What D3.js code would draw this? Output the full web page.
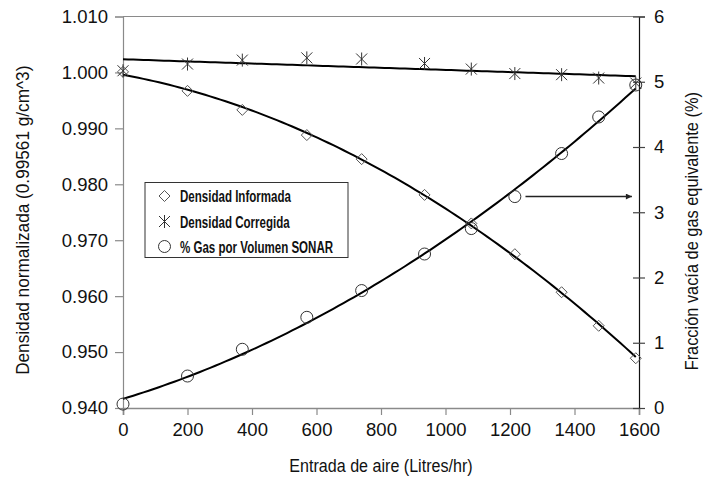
<!DOCTYPE html>
<html><head><meta charset="utf-8">
<script src="https://cdn.jsdelivr.net/npm/d3@7/dist/d3.min.js"></script>
<style>body{margin:0;background:#fff}svg{display:block}</style>
</head><body><svg id="c" width="720" height="481"></svg>
<script>
// ---- data ----
const airFlow = [0, 200, 370, 570, 740, 935, 1080, 1215, 1360, 1475, 1590];
const densInformada = [1.0001, 0.9967, 0.9933, 0.9888, 0.9845, 0.9781, 0.9730, 0.9675, 0.9607, 0.9547, 0.9489];
const densCorregida = [1.0003, 1.0015, 1.0022, 1.0026, 1.0024, 1.0016, 1.0006, 0.9998, 0.9996, 0.9990, 0.9981];
const gasSonar = [0.06, 0.49, 0.90, 1.39, 1.80, 2.36, 2.75, 3.24, 3.90, 4.46, 4.95];
const xTicks = [0, 200, 400, 600, 800, 1000, 1200, 1400, 1600];
const leftTicks = [0.940, 0.950, 0.960, 0.970, 0.980, 0.990, 1.000, 1.010];
const rightTicks = [0, 1, 2, 3, 4, 5, 6];
const legendLabels = ["Densidad Informada", "Densidad Corregida", "% Gas por Volumen SONAR"];
const xTitle = "Entrada de aire (Litres/hr)";
const yLeftTitle = "Densidad normalizada (0.99561 g/cm^3)";
const yRightTitle = "Fracción vacía de gas equivalente (%)";
const arrowFrom = [1248, 3.24], arrowTo = [1578, 3.24];

// ---- layout ----
const W = 720, H = 481;
const m = {left: 123, right: 81, top: 16.5, bottom: 73};
const iw = W - m.left - m.right, ih = H - m.top - m.bottom;
const svg = d3.select("#c");
const g = svg.append("g").attr("transform", `translate(${m.left},${m.top})`);

const x = d3.scaleLinear().domain([0, 1600]).range([0, iw]);
const yL = d3.scaleLinear().domain([0.94, 1.01]).range([ih, 0]);
const yR = d3.scaleLinear().domain([0, 6]).range([ih, 0]);

const font = "'Liberation Sans', Arial, sans-serif";
const gray = "#8a8a8a";

// polynomial least squares fit (trend lines, as in the original spreadsheet chart)
function polyfit(xs, ys, deg) {
  const n = deg + 1;
  const A = Array.from({length: n}, () => new Array(n + 1).fill(0));
  xs.forEach((xv, k) => {
    for (let i = 0; i < n; i++) {
      for (let j = 0; j < n; j++) A[i][j] += Math.pow(xv, i + j);
      A[i][n] += ys[k] * Math.pow(xv, i);
    }
  });
  for (let i = 0; i < n; i++) {
    let p = i;
    for (let r = i + 1; r < n; r++) if (Math.abs(A[r][i]) > Math.abs(A[p][i])) p = r;
    [A[i], A[p]] = [A[p], A[i]];
    for (let r = 0; r < n; r++) {
      if (r === i) continue;
      const f = A[r][i] / A[i][i];
      for (let c = i; c <= n; c++) A[r][c] -= f * A[i][c];
    }
  }
  const coef = A.map((row, i) => row[n] / row[i]);
  return xv => coef.reduce((s, c, i) => s + c * Math.pow(xv, i), 0);
}

// ---- axes ----
g.append("line").attr("x1", 0).attr("x2", iw).attr("y1", 0).attr("y2", 0)
  .attr("stroke", gray).attr("stroke-width", 1.2);

const axL = g.append("g").call(d3.axisLeft(yL).tickValues(leftTicks).tickFormat(d3.format(".3f")).tickSize(8).tickPadding(7));
axL.select(".domain").attr("stroke", gray).attr("stroke-width", 1.2);
axL.selectAll(".tick line").attr("stroke", gray).attr("stroke-width", 1.2);
axL.selectAll("text").attr("font-family", font).attr("font-size", 18.5).attr("fill", "#111");

const axB = g.append("g").attr("transform", `translate(0,${ih})`)
  .call(d3.axisBottom(x).tickValues(xTicks).tickFormat(d3.format("d")).tickSize(7).tickPadding(8));
axB.select(".domain").attr("stroke", gray).attr("stroke-width", 1.6);
axB.selectAll(".tick line").attr("stroke", gray).attr("stroke-width", 1.2);
axB.selectAll("text").attr("font-family", font).attr("font-size", 18.5).attr("fill", "#111");

const axR = g.append("g").attr("transform", `translate(${iw},0)`)
  .call(d3.axisRight(yR).tickValues(rightTicks).tickFormat(d3.format("d")).tickSize(6).tickPadding(9));
axR.select(".domain").attr("stroke", "#111").attr("stroke-width", 1.2);
axR.selectAll(".tick line").attr("stroke", "#444").attr("stroke-width", 1.2).attr("x1", -6);
axR.selectAll("text").attr("font-family", font).attr("font-size", 18.5).attr("fill", "#111");

// ---- titles (condensed, like Arial Narrow) ----
function title(tx, ty, rot, sx, txt) {
  svg.append("g").attr("transform", `translate(${tx},${ty}) rotate(${rot}) scale(${sx},1)`)
    .append("text").attr("text-anchor", "middle").attr("font-family", font)
    .attr("font-size", 18.5).attr("fill", "#111").text(txt);
}
title(m.left + iw / 2, 472, 0, 0.87, xTitle);
title(29, m.top + ih / 2 + 8, -90, 0.93, yLeftTitle);
title(698, m.top + ih / 2 + 19, -90, 0.885, yRightTitle);

// ---- trend lines ----
const xmin = d3.min(airFlow), xmax = d3.max(airFlow);
const samples = d3.range(0, 101).map(i => xmin + (xmax - xmin) * i / 100);
const fInf = polyfit(airFlow, densInformada, 2);
const fCor = polyfit(airFlow, densCorregida, 1);
const fGas = polyfit(airFlow, gasSonar, 2);
const trend = (f, ys) => d3.line().x(d => x(d)).y(d => ys(f(d)));
[[fInf, yL], [fCor, yL], [fGas, yR]].forEach(([f, ys]) => {
  g.append("path").datum(samples).attr("d", trend(f, ys))
    .attr("fill", "none").attr("stroke", "#000").attr("stroke-width", 2);
});

// ---- markers ----
const mk = "#555";
function diamond(sel) {
  sel.append("path").attr("d", "M0,-5.5L5.5,0L0,5.5L-5.5,0Z").attr("fill", "none").attr("stroke", mk).attr("stroke-width", 1);
}
function star(sel) {
  sel.append("path").attr("d", "M-5.5,-5.5L5.5,5.5M-5.5,5.5L5.5,-5.5M0,-6.5L0,6.5").attr("fill", "none").attr("stroke", "#333").attr("stroke-width", 1);
}
function circ(sel) {
  sel.append("circle").attr("r", 6).attr("fill", "none").attr("stroke", "#333").attr("stroke-width", 1);
}
const pts = (vals, ys, fn) => g.append("g").selectAll("g").data(airFlow).join("g")
  .attr("transform", (d, i) => `translate(${x(d)},${ys(vals[i])})`).call(fn);
pts(densInformada, yL, diamond);
pts(densCorregida, yL, star);
pts(gasSonar, yR, circ);

// ---- arrow ----
svg.append("defs").append("marker").attr("id", "ah").attr("viewBox", "0 0 10 10").attr("refX", 10).attr("refY", 5)
  .attr("markerWidth", 9).attr("markerHeight", 6).attr("markerUnits", "userSpaceOnUse").attr("orient", "auto")
  .append("path").attr("d", "M0,0L10,5L0,10Z").attr("fill", "#222");
g.append("line").attr("x1", x(arrowFrom[0])).attr("y1", yR(arrowFrom[1])).attr("x2", x(arrowTo[0])).attr("y2", yR(arrowTo[1]))
  .attr("stroke", "#222").attr("stroke-width", 1.5).attr("marker-end", "url(#ah)");

// ---- legend ----
const lg = svg.append("g").attr("transform", "translate(145,182.5)");
lg.append("rect").attr("width", 203).attr("height", 75).attr("fill", "#fff").attr("stroke", "#333").attr("stroke-width", 1);
const rowsY = [13.5, 39, 64];
const fns = [diamond, star, circ];
legendLabels.forEach((t, i) => {
  const r = lg.append("g").attr("transform", `translate(19.5,${rowsY[i]})`);
  fns[i](r);
  r.append("g").attr("transform", "translate(15.5,0) scale(0.68,1)")
    .append("text").attr("dy", "0.36em").attr("font-family", font)
    .attr("font-weight", "bold").attr("font-size", 17).attr("fill", "#111").text(t);
});
</script></body></html>
